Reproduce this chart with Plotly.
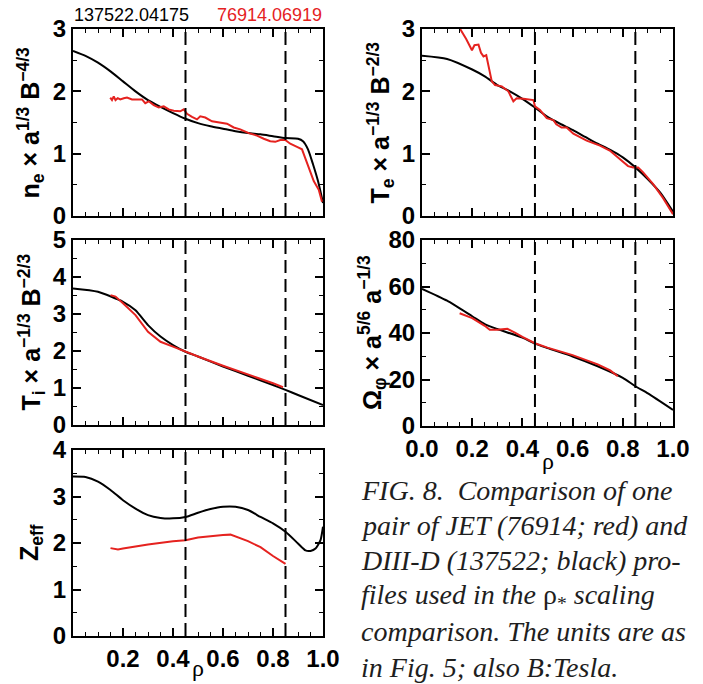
import plotly.graph_objects as go

W, H = 703, 684

# ---------------- data ----------------
rho_ne_k = [0, 0.05, 0.1, 0.15, 0.2, 0.25, 0.3, 0.35, 0.4, 0.45, 0.5, 0.55, 0.6, 0.65, 0.7, 0.75, 0.8, 0.85, 0.9, 0.92, 0.94, 0.96, 0.98, 1.0]
ne_k = [2.65, 2.57, 2.46, 2.32, 2.16, 2.0, 1.86, 1.75, 1.65, 1.56, 1.49, 1.44, 1.40, 1.36, 1.33, 1.31, 1.28, 1.25, 1.24, 1.2, 1.07, 0.83, 0.56, 0.21]
rho_ne_r = [0.149, 0.156, 0.163, 0.17, 0.179, 0.189, 0.203, 0.216, 0.236, 0.256, 0.276, 0.289, 0.303, 0.323, 0.343, 0.363, 0.383, 0.403, 0.429, 0.443, 0.456, 0.476, 0.496, 0.509, 0.529, 0.556, 0.589, 0.616, 0.643, 0.669, 0.703, 0.736, 0.763, 0.789, 0.809, 0.829, 0.849, 0.869, 0.896, 0.916, 0.929, 0.943, 0.963, 0.983, 0.996]
ne_r = [1.90, 1.86, 1.92, 1.86, 1.89, 1.87, 1.89, 1.90, 1.87, 1.87, 1.87, 1.81, 1.84, 1.78, 1.74, 1.76, 1.71, 1.69, 1.68, 1.71, 1.64, 1.59, 1.55, 1.60, 1.58, 1.52, 1.50, 1.48, 1.42, 1.39, 1.33, 1.29, 1.24, 1.20, 1.19, 1.22, 1.22, 1.16, 1.11, 1.07, 0.93, 0.77, 0.56, 0.42, 0.23]

rho_te_k = [0, 0.1, 0.2, 0.25, 0.3, 0.35, 0.4, 0.45, 0.5, 0.55, 0.6, 0.65, 0.7, 0.75, 0.8, 0.85, 0.9, 0.95, 1.0]
te_k = [2.57, 2.52, 2.35, 2.24, 2.1, 2.0, 1.88, 1.74, 1.59, 1.48, 1.38, 1.27, 1.16, 1.06, 0.94, 0.78, 0.59, 0.37, 0.07]
rho_te_r = [0.152, 0.176, 0.199, 0.209, 0.225, 0.235, 0.245, 0.256, 0.278, 0.291, 0.318, 0.344, 0.364, 0.377, 0.404, 0.444, 0.45, 0.47, 0.497, 0.523, 0.535, 0.556, 0.576, 0.603, 0.656, 0.709, 0.748, 0.788, 0.821, 0.841, 0.861, 0.881, 0.921, 0.96, 1.0]
te_r = [3.0, 2.84, 2.66, 2.74, 2.75, 2.62, 2.56, 2.58, 2.16, 2.1, 2.08, 2.0, 1.84, 1.89, 1.88, 1.86, 1.76, 1.70, 1.57, 1.54, 1.47, 1.42, 1.42, 1.32, 1.21, 1.13, 1.05, 0.91, 0.80, 0.78, 0.78, 0.70, 0.51, 0.29, 0.03]

rho_ti_k = [0, 0.1, 0.2, 0.25, 0.3, 0.35, 0.4, 0.45, 0.5, 0.6, 0.7, 0.8, 0.85, 0.9, 1.0]
ti_k = [3.69, 3.6, 3.33, 3.1, 2.7, 2.39, 2.16, 1.98, 1.85, 1.58, 1.33, 1.08, 0.95, 0.81, 0.54]
rho_ti_r = [0.15, 0.17, 0.2, 0.25, 0.3, 0.35, 0.4, 0.45, 0.5, 0.6, 0.7, 0.8, 0.84]
ti_r = [3.51, 3.47, 3.29, 2.97, 2.52, 2.25, 2.12, 1.98, 1.85, 1.6, 1.37, 1.13, 1.02]

rho_om_k = [0, 0.1, 0.2, 0.25, 0.3, 0.4, 0.45, 0.5, 0.6, 0.7, 0.8, 0.85, 0.9, 1.0]
om_k = [59.0, 53.9, 47.2, 43.8, 41.7, 38.0, 35.4, 33.5, 29.9, 25.7, 20.7, 17.1, 14.0, 6.9]
rho_om_r = [0.15, 0.2, 0.25, 0.27, 0.3, 0.34, 0.37, 0.4, 0.45, 0.5, 0.6, 0.7, 0.75, 0.78]
om_r = [48.5, 46.4, 43.1, 41.4, 41.4, 41.8, 40.2, 38.3, 35.6, 33.7, 30.5, 26.5, 23.9, 21.4]

rho_z_k = [0, 0.05, 0.1, 0.15, 0.2, 0.25, 0.3, 0.35, 0.4, 0.45, 0.5, 0.55, 0.6, 0.65, 0.7, 0.75, 0.8, 0.85, 0.9, 0.93, 0.95, 0.97, 0.99, 1.0]
z_k = [3.43, 3.42, 3.32, 3.14, 2.92, 2.74, 2.6, 2.54, 2.53, 2.56, 2.65, 2.73, 2.78, 2.78, 2.71, 2.56, 2.42, 2.24, 1.99, 1.84, 1.83, 1.88, 2.06, 2.35]
rho_z_r = [0.15, 0.18, 0.2, 0.3, 0.4, 0.45, 0.5, 0.55, 0.6, 0.63, 0.7, 0.75, 0.8, 0.85]
z_r = [1.89, 1.86, 1.88, 1.97, 2.04, 2.06, 2.12, 2.15, 2.17, 2.18, 2.04, 1.91, 1.72, 1.55]

rho_marks = [0.45, 0.85]
shot_black = "137522.04175"
shot_red = "76914.06919"
caption_lines = [
    "<i>FIG. 8.  Comparison of one</i>",
    "<i>pair of JET (76914; red) and</i>",
    "<i>DIII-D (137522; black) pro-</i>",
    "<i>files used in the </i>ρ<sub>*</sub><i> scaling</i>",
    "<i>comparison. The units are as</i>",
    "<i>in Fig. 5; also B:Tesla.</i>",
]

# ---------------- layout helpers ----------------
BLACK = "#000000"
RED = "#e5221f"
TICKFONT = dict(family="Liberation Sans Narrow, Arial Narrow, Liberation Sans, Arial, sans-serif",
                size=24, color=BLACK, weight="bold")
TITLEFONT = dict(family="Liberation Sans, Arial, sans-serif", size=25, color=BLACK, weight="bold")


def px_x(a, b):
    return [a / W, b / W]


def px_y(top, bottom):
    return [(H - bottom) / H, (H - top) / H]


panels = [
    dict(x=(73, 323), y=(29, 216), yr=[0, 3], dt=1, mdt=0.5,
         k=(rho_ne_k, ne_k), r=(rho_ne_r, ne_r),
         title="n<sub>e</sub> × a<sup>1/3</sup> B<sup>−4/3</sup>", tx=31, xl=None),
    dict(x=(422, 673), y=(29, 216), yr=[0, 3], dt=1, mdt=0.5,
         k=(rho_te_k, te_k), r=(rho_te_r, te_r),
         title="T<sub>e</sub> × a<sup>−1/3</sup> B<sup>−2/3</sup>", tx=381, xl=None),
    dict(x=(73, 323), y=(240, 425), yr=[0, 5], dt=1, mdt=0.5,
         k=(rho_ti_k, ti_k), r=(rho_ti_r, ti_r),
         title="T<sub>i</sub> × a<sup>−1/3</sup> B<sup>−2/3</sup>", tx=31, xl=None),
    dict(x=(422, 673), y=(240, 426), yr=[0, 80], dt=20, mdt=10,
         k=(rho_om_k, om_k), r=(rho_om_r, om_r),
         title="Ω<sub>φ</sub> × a<sup>5/6</sup> a<sup>−1/3</sup>", tx=372, xl=[0, 0.2, 0.4, 0.6, 0.8, 1.0]),
    dict(x=(73, 323), y=(450, 636), yr=[0, 4], dt=1, mdt=0.5,
         k=(rho_z_k, z_k), r=(rho_z_r, z_r),
         title="Z<sub>eff</sub>", tx=31, xl=[0.2, 0.4, 0.6, 0.8, 1.0]),
]

fig = go.Figure()
layout = dict(template="none", width=W, height=H, margin=dict(l=0, r=0, t=0, b=0, pad=0, autoexpand=False),
              paper_bgcolor="white", plot_bgcolor="white", showlegend=False)
annotations = []
shapes = []

for i, p in enumerate(panels, start=1):
    xa = "x" if i == 1 else f"x{i}"
    ya = "y" if i == 1 else f"y{i}"
    fig.add_trace(go.Scatter(x=p["k"][0], y=p["k"][1], xaxis=xa, yaxis=ya, mode="lines",
                             line=dict(color=BLACK, width=2, shape="spline", smoothing=0.6)))
    fig.add_trace(go.Scatter(x=p["r"][0], y=p["r"][1], xaxis=xa, yaxis=ya, mode="lines",
                             line=dict(color=RED, width=2), cliponaxis=True))
    common = dict(showline=True, linecolor=BLACK, linewidth=2, mirror="allticks",
                  ticks="inside", ticklen=8, tickwidth=1.5, tickcolor=BLACK, automargin=False,
                  showgrid=False, zeroline=False, tickfont=TICKFONT)
    xl = p["xl"]
    xt = [0, 0.2, 0.4, 0.6, 0.8, 1.0]
    layout[f"xaxis{i}"] = dict(
        common, domain=px_x(*p["x"]), range=[0, 1], anchor=ya,
        tickmode="array", tickvals=xt,
        ticktext=[(f"{v:.1f}" if (xl is not None and any(abs(v - q) < 1e-9 for q in xl)) else " ")
                  for v in xt],
        minor=dict(ticks="inside", ticklen=4, tickwidth=1, tickcolor=BLACK, dtick=0.05, tick0=0),
    )
    layout[f"yaxis{i}"] = dict(
        common, domain=px_y(*p["y"]), range=p["yr"], anchor=xa,
        tickmode="linear", tick0=0, dtick=p["dt"],
        minor=dict(ticks="inside", ticklen=4, tickwidth=1, tickcolor=BLACK, dtick=p["mdt"], tick0=0),
    )
    for xm in rho_marks:
        shapes.append(dict(type="line", xref=xa, yref=f"{ya} domain", x0=xm, x1=xm, y0=0, y1=1,
                           line=dict(color=BLACK, width=2, dash="13px,6px")))
    yc = 1 - (p["y"][0] + p["y"][1]) / 2 / H
    annotations.append(dict(text=p["title"], xref="paper", yref="paper", x=p["tx"] / W, y=yc,
                            textangle=-90, showarrow=False, xanchor="center", yanchor="middle",
                            font=TITLEFONT))

# x-axis titles (rho)
RHOFONT = dict(family="Liberation Serif, Times New Roman, serif", size=24, color=BLACK)
annotations.append(dict(text="ρ", xref="paper", yref="paper", x=198 / W, y=1 - 668 / H,
                        showarrow=False, xanchor="center", yanchor="middle", font=RHOFONT))
annotations.append(dict(text="ρ", xref="paper", yref="paper", x=548 / W, y=1 - 461 / H,
                        showarrow=False, xanchor="center", yanchor="middle", font=RHOFONT))

# shot numbers header
HDRFONT = dict(family="Liberation Sans, Arial, sans-serif", size=18)
annotations.append(dict(text=shot_black, xref="paper", yref="paper", x=72 / W, y=1 - 15 / H,
                        showarrow=False, xanchor="left", yanchor="middle",
                        font=dict(HDRFONT, color=BLACK)))
annotations.append(dict(text=shot_red, xref="paper", yref="paper", x=324 / W, y=1 - 15 / H,
                        showarrow=False, xanchor="right", yanchor="middle",
                        font=dict(HDRFONT, color=RED)))

# caption, one line per annotation
CAPFONT = dict(family="Liberation Serif, Times New Roman, serif", size=28, color="#1e1e1e")
for j, line in enumerate(caption_lines):
    yc = 490 + j * 35.4
    annotations.append(dict(text=line, xref="paper", yref="paper", x=359 / W, y=1 - yc / H,
                            showarrow=False, xanchor="left", yanchor="middle", align="left",
                            font=CAPFONT))

layout["annotations"] = annotations
layout["shapes"] = shapes
fig.update_layout(**layout)
fig.write_html("out.html")
